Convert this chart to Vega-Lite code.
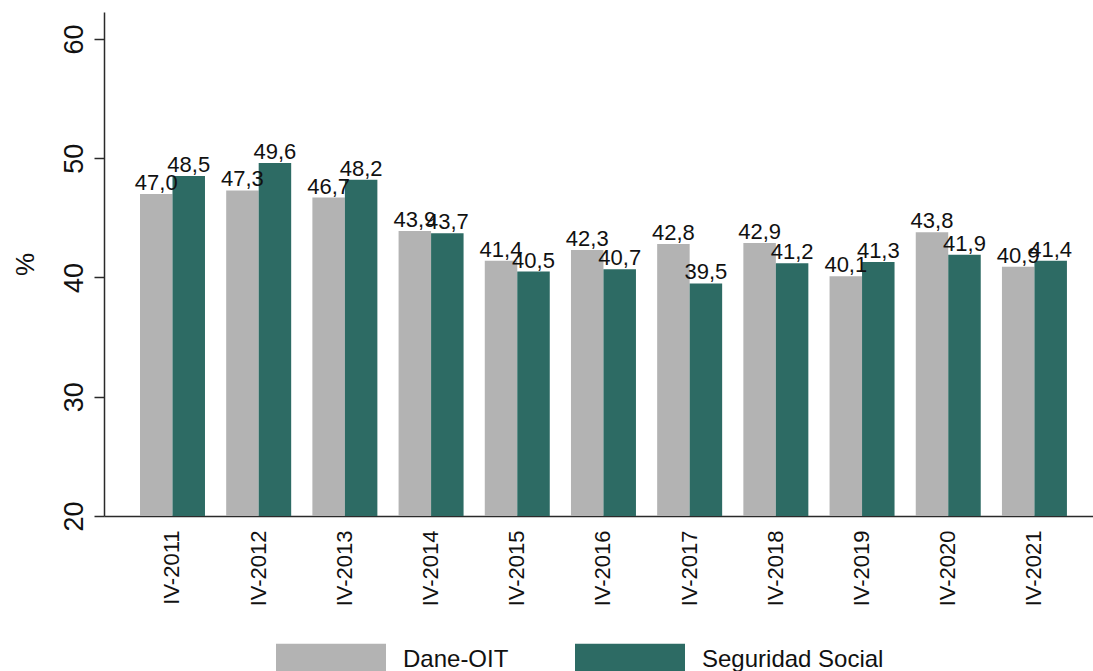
{
  "$schema": "https://vega.github.io/schema/vega-lite/v6.json",
  "autosize": "none",
  "width": 989,
  "height": 504,
  "padding": {"left": 104, "top": 12, "right": 0, "bottom": 155},
  "background": "white",
  "config": {
    "view": {"stroke": null},
    "font": "Liberation Sans",
    "locale": {"number": {"decimal": ",", "thousands": ".", "grouping": [3], "currency": ["", ""]}}
  },
  "data": {
    "values": [
      {"periodo": "IV-2011", "serie": "Dane-OIT", "valor": 47.0},
      {"periodo": "IV-2011", "serie": "Seguridad Social", "valor": 48.5},
      {"periodo": "IV-2012", "serie": "Dane-OIT", "valor": 47.3},
      {"periodo": "IV-2012", "serie": "Seguridad Social", "valor": 49.6},
      {"periodo": "IV-2013", "serie": "Dane-OIT", "valor": 46.7},
      {"periodo": "IV-2013", "serie": "Seguridad Social", "valor": 48.2},
      {"periodo": "IV-2014", "serie": "Dane-OIT", "valor": 43.9},
      {"periodo": "IV-2014", "serie": "Seguridad Social", "valor": 43.7},
      {"periodo": "IV-2015", "serie": "Dane-OIT", "valor": 41.4},
      {"periodo": "IV-2015", "serie": "Seguridad Social", "valor": 40.5},
      {"periodo": "IV-2016", "serie": "Dane-OIT", "valor": 42.3},
      {"periodo": "IV-2016", "serie": "Seguridad Social", "valor": 40.7},
      {"periodo": "IV-2017", "serie": "Dane-OIT", "valor": 42.8},
      {"periodo": "IV-2017", "serie": "Seguridad Social", "valor": 39.5},
      {"periodo": "IV-2018", "serie": "Dane-OIT", "valor": 42.9},
      {"periodo": "IV-2018", "serie": "Seguridad Social", "valor": 41.2},
      {"periodo": "IV-2019", "serie": "Dane-OIT", "valor": 40.1},
      {"periodo": "IV-2019", "serie": "Seguridad Social", "valor": 41.3},
      {"periodo": "IV-2020", "serie": "Dane-OIT", "valor": 43.8},
      {"periodo": "IV-2020", "serie": "Seguridad Social", "valor": 41.9},
      {"periodo": "IV-2021", "serie": "Dane-OIT", "valor": 40.9},
      {"periodo": "IV-2021", "serie": "Seguridad Social", "valor": 41.4}
    ]
  },
  "encoding": {
    "x": {
      "field": "periodo",
      "type": "nominal",
      "sort": null,
      "scale": {"paddingInner": 0.246, "paddingOuter": 0.36, "align": 0.58},
      "axis": {
        "title": null,
        "domainColor": "#2a2a2a",
        "domainWidth": 1.5,
        "ticks": false,
        "labelAngle": -90,
        "labelAlign": "right",
        "labelBaseline": "middle",
        "labelPadding": 14,
        "labelFontSize": 22,
        "labelColor": "#111111",
        "labelFont": "Liberation Sans"
      }
    },
    "xOffset": {
      "field": "serie",
      "type": "nominal",
      "scale": {"domain": ["Dane-OIT", "Seguridad Social"], "paddingInner": 0, "paddingOuter": 0}
    },
    "y": {
      "field": "valor",
      "type": "quantitative",
      "scale": {"domain": [20, 62.26], "nice": false, "zero": false},
      "axis": {
        "title": "%",
        "values": [20, 30, 40, 50, 60],
        "grid": false,
        "domainColor": "#2a2a2a",
        "domainWidth": 1.5,
        "tickColor": "#2a2a2a",
        "tickWidth": 1.5,
        "tickSize": 10,
        "labelAngle": -90,
        "labelAlign": "center",
        "labelBaseline": "alphabetic",
        "labelPadding": 12,
        "labelFontSize": 27,
        "labelColor": "#111111",
        "labelFont": "Liberation Sans",
        "titleFontSize": 26,
        "titleFontWeight": "normal",
        "titleFont": "Liberation Sans",
        "titleColor": "#111111",
        "titleAngle": -90,
        "titleAlign": "center",
        "titleBaseline": "alphabetic",
        "titleX": -71,
        "titleY": 252
      }
    }
  },
  "layer": [
    {
      "mark": {"type": "bar"},
      "encoding": {
        "y2": {"datum": 20},
        "color": {
          "field": "serie",
          "type": "nominal",
          "scale": {"domain": ["Dane-OIT", "Seguridad Social"], "range": ["#b3b3b3", "#2d6b64"]},
          "legend": {
            "title": null,
            "orient": "none",
            "direction": "horizontal",
            "legendX": 172,
            "legendY": 593,
            "symbolType": "M-1,-0.3H1V0.3H-1Z",
            "symbolSize": 12100,
            "symbolStrokeWidth": 0,
            "symbolOpacity": 1,
            "labelFontSize": 24,
            "labelFont": "Liberation Sans",
            "labelColor": "#111111",
            "labelOffset": 17,
            "labelLimit": 0,
            "columnPadding": 66,
            "padding": 0
          }
        }
      }
    },
    {
      "mark": {"type": "text", "baseline": "alphabetic", "align": "center", "dy": -4, "fontSize": 22, "font": "Liberation Sans", "color": "#111111"},
      "encoding": {
        "text": {"field": "valor", "type": "quantitative", "format": ".1f"}
      }
    }
  ]
}
